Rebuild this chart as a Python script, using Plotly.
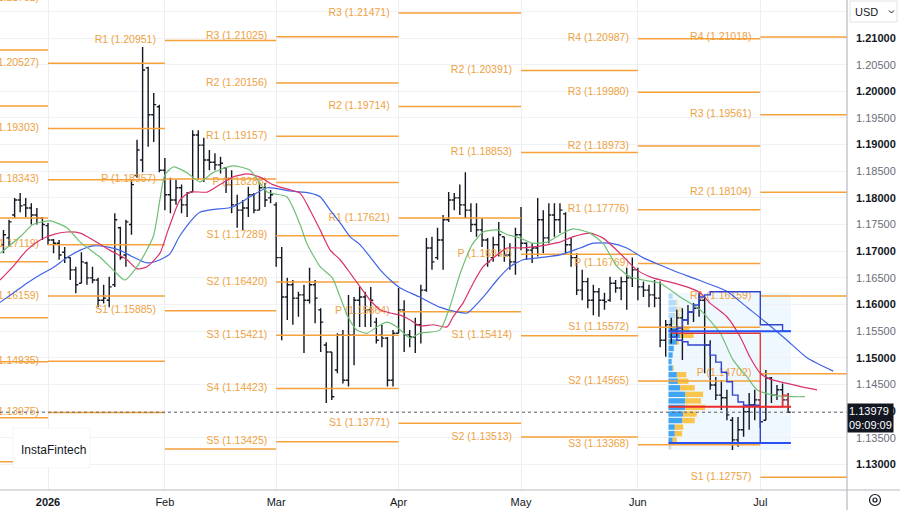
import numpy as np
import pandas as pd
import plotly.graph_objects as go

# ---------------- calendar ----------------
holidays = ["2025-12-25", "2026-01-01"]
first_bar = "2025-12-19"
n_bars = 142

# ---------------- daily OHLC (EURUSD) ----------------
bar_open = [1.1712, 1.1725, 1.1768, 1.1796, 1.1787, 1.1781, 1.1768, 1.1762, 1.1748, 1.1721,
            1.1715, 1.1698, 1.1688, 1.1665, 1.1640, 1.1678, 1.1650, 1.1646, 1.1608, 1.1608,
            1.1637, 1.1744, 1.1693, 1.1750, 1.1842, 1.1871, 1.2044, 1.1956, 1.1971, 1.1852,
            1.1806, 1.1796, 1.1819, 1.1787, 1.1811, 1.1918, 1.1899, 1.1871, 1.1867, 1.1862,
            1.1856, 1.1825, 1.1787, 1.1777, 1.1781, 1.1806, 1.1777, 1.1819, 1.1800, 1.1787,
            1.1688, 1.1614, 1.1637, 1.1612, 1.1618, 1.1608, 1.1637, 1.1590, 1.1524, 1.1511,
            1.1477, 1.1543, 1.1458, 1.1543, 1.1608, 1.1614, 1.1590, 1.1567, 1.1543, 1.1537,
            1.1458, 1.1546, 1.1590, 1.1543, 1.1539, 1.1562, 1.1627, 1.1706, 1.1688, 1.1721,
            1.1759, 1.1796, 1.1800, 1.1787, 1.1777, 1.1750, 1.1740, 1.1721, 1.1688, 1.1712,
            1.1727, 1.1693, 1.1680, 1.1731, 1.1715, 1.1702, 1.1706, 1.1759, 1.1725, 1.1768,
            1.1759, 1.1770, 1.1712, 1.1688, 1.1627, 1.1643, 1.1608, 1.1624, 1.1608, 1.1608,
            1.1640, 1.1631, 1.1643, 1.1650, 1.1665, 1.1633, 1.1627, 1.1618, 1.1612, 1.1533,
            1.1562, 1.1552, 1.1575, 1.1571, 1.1586, 1.1593, 1.1608, 1.1524, 1.1449, 1.1430,
            1.1425, 1.1383, 1.1346, 1.1365, 1.1399, 1.1412, 1.1421, 1.1383, 1.1462, 1.1430,
            1.1440, 1.1421]
bar_high = [1.1740, 1.1759, 1.1800, 1.1809, 1.1800, 1.1790, 1.1781, 1.1764, 1.1753, 1.1723,
            1.1721, 1.1708, 1.1688, 1.1671, 1.1698, 1.1680, 1.1671, 1.1650, 1.1637, 1.1652,
            1.1771, 1.1746, 1.1759, 1.1834, 1.1909, 1.2083, 1.2046, 1.1997, 1.1975, 1.1875,
            1.1838, 1.1834, 1.1825, 1.1811, 1.1927, 1.1927, 1.1913, 1.1890, 1.1884, 1.1877,
            1.1858, 1.1852, 1.1806, 1.1796, 1.1821, 1.1809, 1.1830, 1.1828, 1.1815, 1.1792,
            1.1708, 1.1650, 1.1646, 1.1624, 1.1637, 1.1669, 1.1646, 1.1593, 1.1529, 1.1511,
            1.1546, 1.1552, 1.1618, 1.1614, 1.1633, 1.1624, 1.1633, 1.1575, 1.1562, 1.1539,
            1.1552, 1.1631, 1.1608, 1.1552, 1.1575, 1.1637, 1.1725, 1.1727, 1.1744, 1.1768,
            1.1811, 1.1809, 1.1825, 1.1848, 1.1790, 1.1790, 1.1762, 1.1725, 1.1727, 1.1755,
            1.1727, 1.1715, 1.1744, 1.1783, 1.1717, 1.1715, 1.1800, 1.1777, 1.1790, 1.1790,
            1.1790, 1.1773, 1.1725, 1.1696, 1.1665, 1.1650, 1.1637, 1.1631, 1.1622, 1.1652,
            1.1646, 1.1652, 1.1669, 1.1688, 1.1669, 1.1643, 1.1637, 1.1646, 1.1643, 1.1571,
            1.1575, 1.1590, 1.1593, 1.1599, 1.1603, 1.1622, 1.1614, 1.1533, 1.1464, 1.1458,
            1.1440, 1.1389, 1.1389, 1.1412, 1.1434, 1.1440, 1.1421, 1.1477, 1.1464, 1.1449,
            1.1452, 1.1434]
bar_low = [1.1696, 1.1708, 1.1762, 1.1773, 1.1764, 1.1750, 1.1750, 1.1721, 1.1712, 1.1696,
           1.1684, 1.1678, 1.1646, 1.1621, 1.1640, 1.1637, 1.1640, 1.1595, 1.1602, 1.1595,
           1.1633, 1.1684, 1.1671, 1.1731, 1.1838, 1.1848, 1.1896, 1.1905, 1.1848, 1.1777,
           1.1771, 1.1787, 1.1771, 1.1764, 1.1811, 1.1834, 1.1830, 1.1852, 1.1852, 1.1846,
           1.1809, 1.1771, 1.1744, 1.1740, 1.1764, 1.1771, 1.1777, 1.1783, 1.1790, 1.1671,
           1.1533, 1.1571, 1.1562, 1.1577, 1.1509, 1.1602, 1.1565, 1.1511, 1.1415, 1.1421,
           1.1471, 1.1452, 1.1446, 1.1486, 1.1558, 1.1558, 1.1558, 1.1527, 1.1520, 1.1446,
           1.1446, 1.1546, 1.1511, 1.1520, 1.1509, 1.1527, 1.1624, 1.1665, 1.1684, 1.1665,
           1.1755, 1.1777, 1.1768, 1.1762, 1.1736, 1.1727, 1.1708, 1.1671, 1.1680, 1.1690,
           1.1680, 1.1665, 1.1656, 1.1702, 1.1684, 1.1678, 1.1690, 1.1696, 1.1715, 1.1727,
           1.1734, 1.1696, 1.1671, 1.1618, 1.1608, 1.1593, 1.1580, 1.1577, 1.1590, 1.1605,
           1.1622, 1.1608, 1.1590, 1.1633, 1.1608, 1.1614, 1.1595, 1.1595, 1.1520, 1.1502,
           1.1527, 1.1539, 1.1496, 1.1562, 1.1567, 1.1577, 1.1471, 1.1440, 1.1421, 1.1402,
           1.1383, 1.1327, 1.1333, 1.1352, 1.1365, 1.1383, 1.1368, 1.1383, 1.1415, 1.1421,
           1.1408, 1.1397]
bar_close = [1.1731, 1.1755, 1.1796, 1.1785, 1.1781, 1.1768, 1.1762, 1.1750, 1.1721, 1.1715,
             1.1693, 1.1688, 1.1665, 1.1637, 1.1680, 1.1650, 1.1646, 1.1608, 1.1612, 1.1633,
             1.1759, 1.1688, 1.1755, 1.1825, 1.1890, 1.2040, 1.1956, 1.1975, 1.1852, 1.1806,
             1.1796, 1.1819, 1.1787, 1.1809, 1.1918, 1.1899, 1.1871, 1.1867, 1.1862, 1.1865,
             1.1825, 1.1787, 1.1777, 1.1781, 1.1806, 1.1777, 1.1819, 1.1796, 1.1806, 1.1688,
             1.1614, 1.1637, 1.1612, 1.1618, 1.1608, 1.1637, 1.1612, 1.1567, 1.1511, 1.1427,
             1.1543, 1.1458, 1.1543, 1.1608, 1.1614, 1.1590, 1.1608, 1.1533, 1.1537, 1.1458,
             1.1546, 1.1590, 1.1543, 1.1539, 1.1562, 1.1627, 1.1706, 1.1680, 1.1721, 1.1759,
             1.1796, 1.1800, 1.1787, 1.1777, 1.1750, 1.1740, 1.1721, 1.1680, 1.1712, 1.1731,
             1.1693, 1.1680, 1.1731, 1.1715, 1.1702, 1.1706, 1.1759, 1.1725, 1.1768, 1.1759,
             1.1777, 1.1712, 1.1688, 1.1627, 1.1643, 1.1608, 1.1624, 1.1608, 1.1605, 1.1640,
             1.1631, 1.1643, 1.1650, 1.1665, 1.1633, 1.1627, 1.1618, 1.1612, 1.1533, 1.1562,
             1.1552, 1.1575, 1.1571, 1.1586, 1.1593, 1.1608, 1.1524, 1.1449, 1.1430, 1.1425,
             1.1393, 1.1346, 1.1365, 1.1399, 1.1412, 1.1421, 1.1380, 1.1462, 1.1430, 1.1440,
             1.1421, 1.13979]

# ---------------- monthly pivot points ----------------
# (a name of "" = level drawn without a label, as on the chart)
piv_dec_names = ["", "", "", "", "", "", "", "", ""]
piv_dec_vals = [1.20775, 1.19725, 1.18675, 1.17625, 1.16800, 1.15750, 1.14925, 1.13875, 1.13050]
piv_jan_names = ["R4", "R3", "R2", "R1", "P", "S1", "S2", "S3"]
piv_jan_vals = [1.21752, 1.20527, 1.19303, 1.18343, 1.17119, 1.16159, 1.14935, 1.13975]
piv_feb_names = ["R1", "P", "S1", ""]
piv_feb_vals = [1.20951, 1.18357, 1.15885, 1.13291]
piv_mar_names = ["R3", "R2", "R1", "P", "S1", "S2", "S3", "S4", "S5"]
piv_mar_vals = [1.21025, 1.20156, 1.19157, 1.18288, 1.17289, 1.16420, 1.15421, 1.14423, 1.13425]
piv_apr_names = ["R3", "R2", "R1", "P", "S1"]
piv_apr_vals = [1.21471, 1.19714, 1.17621, 1.15864, 1.13771]
piv_may_names = ["R2", "R1", "P", "S1", "S2"]
piv_may_vals = [1.20391, 1.18853, 1.16942, 1.15414, 1.13513]
piv_jun_names = ["R4", "R3", "R2", "R1", "P", "S1", "S2", "S3"]
piv_jun_vals = [1.20987, 1.19980, 1.18973, 1.17776, 1.16769, 1.15572, 1.14565, 1.13368]
piv_jul_names = ["R4", "R3", "R2", "R1", "P", "S1"]
piv_jul_vals = [1.21018, 1.19561, 1.18104, 1.16159, 1.14702, 1.12757]

# ---------------- Alligator (bar index / price) ----------------
jaw_x = [-0.6, 1.7, 4.2, 6.6, 8.9, 11.4, 13.8, 16.1, 18.6, 20.9, 23.3, 25.8, 28.1, 29.9, 31.7,
         35.3, 41.2, 44.3, 47.4, 51.5, 55.1, 56.9, 58.7, 60.5, 62.3, 64.1, 65.9, 67.7, 69.5, 71.3,
         74.8, 78.4, 81.5, 83.3, 86.2, 88.7, 91.0, 93.4, 96.4, 100.0, 103.6, 106.0, 109.0, 112.0,
         114.9, 118.0, 121.0, 123.9, 126.4, 130.0, 133.6, 137.2, 140.8, 144.4, 149.1]
jaw_y = [1.1604, 1.1621, 1.1640, 1.1656, 1.1669, 1.1688, 1.1702, 1.1710, 1.1708, 1.1702, 1.1689,
         1.1678, 1.1684, 1.1695, 1.1729, 1.1773, 1.1783, 1.1802, 1.1819, 1.1813, 1.1809, 1.1802,
         1.1777, 1.1753, 1.1727, 1.1712, 1.1689, 1.1665, 1.1646, 1.1631, 1.1614, 1.1595, 1.1586,
         1.1584, 1.1614, 1.1646, 1.1671, 1.1684, 1.1688, 1.1693, 1.1706, 1.1715, 1.1715, 1.1706,
         1.1688, 1.1674, 1.1661, 1.1650, 1.1640, 1.1625, 1.1595, 1.1565, 1.1533, 1.1500, 1.1475]
teeth_x = [-0.6, 1.7, 4.2, 6.6, 8.9, 11.4, 13.8, 16.1, 19.1, 22.2, 24.0, 25.8, 28.1, 29.6, 31.7,
           33.5, 36.6, 38.9, 41.2, 43.8, 46.1, 48.4, 51.5, 53.3, 55.1, 56.9, 58.7, 60.5, 62.3, 64.1,
           65.9, 67.7, 69.5, 71.3, 73.1, 74.8, 77.2, 79.7, 80.8, 82.6, 84.4, 86.2, 88.7, 90.5, 92.8,
           95.1, 97.7, 100.0, 102.3, 105.4, 107.7, 110.8, 113.8, 116.7, 119.8, 122.8, 125.2, 126.9,
           130.0, 132.4, 134.1, 136.0, 137.7, 140.8, 143.7, 146.2]
teeth_y = [1.1646, 1.1671, 1.1702, 1.1721, 1.1731, 1.1736, 1.1734, 1.1721, 1.1702, 1.1684, 1.1667,
           1.1671, 1.1696, 1.1740, 1.1796, 1.1811, 1.1811, 1.1825, 1.1839, 1.1845, 1.1839, 1.1825,
           1.1815, 1.1809, 1.1777, 1.1740, 1.1702, 1.1684, 1.1659, 1.1633, 1.1608, 1.1590, 1.1584,
           1.1580, 1.1571, 1.1560, 1.1562, 1.1558, 1.1577, 1.1603, 1.1640, 1.1671, 1.1693, 1.1706,
           1.1706, 1.1708, 1.1712, 1.1717, 1.1727, 1.1734, 1.1725, 1.1696, 1.1665, 1.1650, 1.1642,
           1.1633, 1.1622, 1.1603, 1.1577, 1.1539, 1.1502, 1.1471, 1.1460, 1.1452, 1.1445, 1.1440]
lips_x = [-0.6, 3.0, 5.3, 8.4, 11.4, 13.8, 17.3, 19.7, 21.8, 24.0, 26.9, 28.1, 29.0, 30.5, 33.0,
          35.3, 37.6, 41.2, 44.3, 47.4, 50.9, 53.3, 54.5, 56.9, 59.1, 60.5, 61.9, 63.5, 65.3, 67.1,
          68.9, 70.7, 73.1, 74.8, 78.4, 80.2, 82.1, 84.2, 86.2, 88.7, 90.5, 92.8, 95.1, 97.7, 100.0,
          102.3, 105.4, 107.7, 110.3, 112.6, 114.9, 118.0, 121.6, 125.2, 128.8, 131.1, 133.6, 135.4,
          138.3, 141.9, 144.0]
lips_y = [1.1696, 1.1727, 1.1750, 1.1757, 1.1744, 1.1717, 1.1689, 1.1665, 1.1646, 1.1671, 1.1727,
          1.1796, 1.1843, 1.1858, 1.1847, 1.1830, 1.1847, 1.1860, 1.1852, 1.1811, 1.1802, 1.1750,
          1.1715, 1.1671, 1.1650, 1.1614, 1.1577, 1.1552, 1.1546, 1.1558, 1.1567, 1.1558, 1.1537,
          1.1546, 1.1552, 1.1595, 1.1659, 1.1712, 1.1736, 1.1740, 1.1731, 1.1725, 1.1715, 1.1717,
          1.1731, 1.1742, 1.1734, 1.1715, 1.1671, 1.1652, 1.1646, 1.1640, 1.1614, 1.1590, 1.1546,
          1.1496, 1.1464, 1.1440, 1.1430, 1.1427, 1.1427]

# ---------------- fixed range volume profile (bars 120..141) ----------------
vp_first_bar = 120
vp_up = [4, 7, 8, 6, 5, 10, 11, 8, 5, 4, 3, 4, 8, 9, 11, 16, 16, 16, 14, 13, 6, 6, 4, 2]      # top -> bottom rows
vp_down = [0, 2, 5, 5, 3, 10, 13, 2, 0, 0, 0, 1, 9, 10, 14, 17, 15, 19, 13, 12, 8, 7, 4, 1]
dev_vah = [1.1546, 1.1556, 1.1571, 1.1586, 1.1599, 1.1614, 1.1618, 1.1624, 1.1624, 1.1624, 1.1624,
           1.1624, 1.1624, 1.1624, 1.1624, 1.1624, 1.1562, 1.1562, 1.1562, 1.1562, 1.1550, 1.1550]
dev_val = [1.1539, 1.1533, 1.1530, 1.1524, 1.1524, 1.1524, 1.1524, 1.1505, 1.1492, 1.1473, 1.1455,
           1.1430, 1.1417, 1.1411, 1.1411, 1.1411, 1.1340, 1.1340, 1.1340, 1.1340, 1.1340, 1.1340]
dev_poc = [1.1546] * 16 + [1.1408, 1.1408, 1.1408, 1.1408, 1.1430, 1.1408]

# ---------------- derived positions ----------------
cal = pd.bdate_range("2025-12-01", "2026-08-31", freq="C", holidays=holidays)
origin = cal.get_loc(pd.Timestamp(first_bar))
cal_idx = np.arange(len(cal)) - origin
bar_x = cal_idx[origin:origin + n_bars]
ym = np.array(cal.strftime("%Y-%m"))


def month_first(key):
    return int(cal_idx[ym == key][0])


pivot_sets = [("2025-12", piv_dec_names, piv_dec_vals), ("2026-01", piv_jan_names, piv_jan_vals),
              ("2026-02", piv_feb_names, piv_feb_vals), ("2026-03", piv_mar_names, piv_mar_vals),
              ("2026-04", piv_apr_names, piv_apr_vals), ("2026-05", piv_may_names, piv_may_vals),
              ("2026-06", piv_jun_names, piv_jun_vals), ("2026-07", piv_jul_names, piv_jul_vals)]
month_keys = ["2025-12", "2026-01", "2026-02", "2026-03", "2026-04", "2026-05", "2026-06", "2026-07", "2026-08"]

X_RANGE = [-0.625, 151.58]
Y_RANGE = [1.12520, 1.21713]
ORANGE = "#f6a13a"
LABEL_GAP = 1.6

seg_x, seg_y, lab_x, lab_y, lab_t = [], [], [], [], []
for k, (key, names, vals) in enumerate(pivot_sets):
    x0, x1 = month_first(key), month_first(month_keys[k + 1])
    for n, v in zip(names, vals):
        seg_x += [x0, x1, None]
        seg_y += [v, v, None]
        if n:
            lab_x.append(x0 - LABEL_GAP)
            lab_y.append(v)
            lab_t.append(f"{n} ({v:.5f})")

fig = go.Figure()

# volume profile box
vp_x = bar_x[vp_first_bar:]
box_l, box_r = vp_x[0] - 0.5, vp_x[-1] + 0.5
box_top = max(bar_high[vp_first_bar:])
box_bot = min(bar_low[vp_first_bar:])
fig.add_shape(type="rect", xref="x", yref="y", x0=box_l, x1=box_r, y0=box_bot, y1=box_top,
              fillcolor="rgba(33,150,243,0.07)", line=dict(width=0), layer="below")

# pivots
fig.add_trace(go.Scatter(x=seg_x, y=seg_y, mode="lines", line=dict(color=ORANGE, width=1.5),
                         hoverinfo="skip"))
fig.add_trace(go.Scatter(x=lab_x, y=lab_y, text=lab_t, mode="text", textposition="middle left",
                         textfont=dict(family="Arial", size=10.5, color="#eea23f"), hoverinfo="skip"))

# volume profile rows
n_rows = len(vp_up)
row_h = (box_top - box_bot) / n_rows
row_c = [box_top - (r + 0.5) * row_h for r in range(n_rows)]
vah, val, poc = dev_vah[-1], dev_val[-1], dev_poc[-1]
tot = [u + d for u, d in zip(vp_up, vp_down)]
scale = 0.3 * (box_r - box_l) / max(tot)
inside = [(val - 1e-9) <= c <= (vah + row_h * 0.6) for c in row_c]
up_col = ["rgba(33,150,243,0.85)" if s else "rgba(33,150,243,0.28)" for s in inside]
dn_col = ["rgba(251,188,45,0.85)" if s else "rgba(251,188,45,0.28)" for s in inside]
fig.add_trace(go.Bar(y=row_c, x=[u * scale for u in vp_up], base=[box_l] * n_rows, orientation="h",
                     width=row_h * 0.82, marker=dict(color=up_col, line=dict(width=0)), hoverinfo="skip"))
fig.add_trace(go.Bar(y=row_c, x=[d * scale for d in vp_down], base=[box_l + u * scale for u in vp_up],
                     orientation="h", width=row_h * 0.82, marker=dict(color=dn_col, line=dict(width=0)),
                     hoverinfo="skip"))

# alligator
fig.add_trace(go.Scatter(x=jaw_x, y=jaw_y, mode="lines", line=dict(color="#3f63e8", width=1.2, shape="spline",
                                                                     smoothing=0.6), hoverinfo="skip"))
fig.add_trace(go.Scatter(x=teeth_x, y=teeth_y, mode="lines", line=dict(color="#d8336a", width=1.2,
                                                                         shape="spline", smoothing=0.6),
                         hoverinfo="skip"))
fig.add_trace(go.Scatter(x=lips_x, y=lips_y, mode="lines", line=dict(color="#6fbf73", width=1.2,
                                                                       shape="spline", smoothing=0.6),
                         hoverinfo="skip"))

# price bars
fig.add_trace(go.Ohlc(x=bar_x, open=bar_open, high=bar_high, low=bar_low, close=bar_close,
                      increasing=dict(line=dict(color="#131722", width=1.4)),
                      decreasing=dict(line=dict(color="#131722", width=1.4)),
                      tickwidth=0.45, hoverinfo="skip"))

# developing VA / POC and final levels
dev_x = list(vp_x) + [box_r]
fig.add_trace(go.Scatter(x=dev_x, y=dev_vah + [dev_vah[-1]], mode="lines",
                         line=dict(color="#3344cc", width=1.4, shape="hv"), hoverinfo="skip"))
fig.add_trace(go.Scatter(x=dev_x, y=dev_val + [dev_val[-1]], mode="lines",
                         line=dict(color="#3344cc", width=1.4, shape="hv"), hoverinfo="skip"))
fig.add_trace(go.Scatter(x=dev_x, y=dev_poc + [dev_poc[-1]], mode="lines",
                         line=dict(color="#e53935", width=1.4, shape="hv"), hoverinfo="skip"))
fig.add_trace(go.Scatter(x=[box_l, box_r, None, box_l, box_r], y=[vah, vah, None, val, val], mode="lines",
                         line=dict(color="#2950f0", width=2), hoverinfo="skip"))
fig.add_trace(go.Scatter(x=[box_l, box_r], y=[poc, poc], mode="lines",
                         line=dict(color="#ee2c2c", width=2), hoverinfo="skip"))

last = bar_close[-1]
fig.add_shape(type="line", xref="paper", x0=0, x1=1, yref="y", y0=last, y1=last,
              line=dict(color="#5d606b", width=1, dash="dot"), layer="above")


# ---------------- axes ----------------
def px2paper_x(px):
    return px / 847.0


def px2paper_y(py):
    return (490.0 - py) / 490.0


month_labels = ["2026", "Feb", "Mar", "Apr", "May", "Jun", "Jul"]
month_vals = [month_first(k) for k in month_keys[1:8]]
month_text = ["<b>2026</b>"] + month_labels[1:]

y_ticks = [round(1.13 + 0.005 * k, 3) for k in range(18)]
y_text = []
for v in y_ticks:
    if v > 1.2125:
        y_text.append("")
    elif round(v * 1000) % 10 == 0:
        y_text.append(f"<b>{v:.5f}</b>")
    else:
        y_text.append(f"<span style='color:#6a6d78'>{v:.5f}</span>")

fig.update_layout(
    width=900, height=510, margin=dict(l=0, r=53, t=0, b=20),
    paper_bgcolor="white", plot_bgcolor="white", showlegend=False, barmode="overlay",
    font=dict(family="Arial", color="#131722"),
    xaxis=dict(range=X_RANGE, tickvals=month_vals, ticktext=month_text, showgrid=True,
               gridcolor="#eceef2", gridwidth=1, zeroline=False, showline=False, ticks="",
               ticklabelstandoff=4,
               tickfont=dict(size=11, color="#131722"), rangeslider=dict(visible=False), fixedrange=True),
    yaxis=dict(side="right", range=Y_RANGE, tickvals=y_ticks, ticktext=y_text, showgrid=True,
               gridcolor="#f0f2f5", zeroline=False, showline=False, ticks="", ticklabelstandoff=8,
               tickfont=dict(size=11, color="#131722"), fixedrange=True),
)

# frame lines
fig.add_shape(type="line", xref="paper", yref="paper", x0=1, x1=1, y0=px2paper_y(510), y1=1,
              line=dict(color="#b6b9c2", width=1.2), layer="above")
fig.add_shape(type="line", xref="paper", yref="paper", x0=0, x1=px2paper_x(900), y0=0, y1=0,
              line=dict(color="#b6b9c2", width=1.2), layer="above")

# watermark box
fig.add_shape(type="rect", xref="paper", yref="paper", x0=px2paper_x(13), x1=px2paper_x(90),
              y0=px2paper_y(468), y1=px2paper_y(428), fillcolor="white",
              line=dict(color="rgba(0,0,0,0.04)", width=1), layer="above")
fig.add_annotation(xref="paper", yref="paper", x=px2paper_x(19), y=px2paper_y(450), text="InstaFintech",
                   showarrow=False, xanchor="left", yanchor="middle",
                   font=dict(family="Arial", size=12, color="#131722", weight=500))

# USD selector
fig.add_shape(type="rect", xref="paper", yref="paper", x0=px2paper_x(850), x1=px2paper_x(897),
              y0=px2paper_y(22), y1=px2paper_y(1), fillcolor="white", line=dict(color="#e0e3eb", width=1))
fig.add_annotation(xref="paper", yref="paper", x=px2paper_x(853), y=px2paper_y(12), text="USD",
                   showarrow=False, xanchor="left", yanchor="middle", font=dict(size=11, color="#131722"))
fig.add_shape(type="path", xref="paper", yref="paper",
              path=f"M {px2paper_x(889)},{px2paper_y(10.5)} L {px2paper_x(891.5)},{px2paper_y(13)} "
                   f"L {px2paper_x(894)},{px2paper_y(10.5)}",
              line=dict(color="#131722", width=1))

# last price tag
fig.add_annotation(xref="paper", yref="y", x=1, y=last, yshift=-6, xanchor="left", yanchor="middle",
                   text=f"{last:.5f}<br>09:09:09", showarrow=False, align="left",
                   font=dict(size=11, color="white"), bgcolor="#131722", borderpad=1)

# settings icon
cx, cy = 875, 500
fig.add_shape(type="circle", xref="paper", yref="paper", x0=px2paper_x(cx - 5.5), x1=px2paper_x(cx + 5.5),
              y0=px2paper_y(cy + 5.5), y1=px2paper_y(cy - 5.5), line=dict(color="#131722", width=1.2))
fig.add_shape(type="circle", xref="paper", yref="paper", x0=px2paper_x(cx - 2), x1=px2paper_x(cx + 2),
              y0=px2paper_y(cy + 2), y1=px2paper_y(cy - 2), line=dict(color="#131722", width=1.2))

fig.write_html("out.html")
